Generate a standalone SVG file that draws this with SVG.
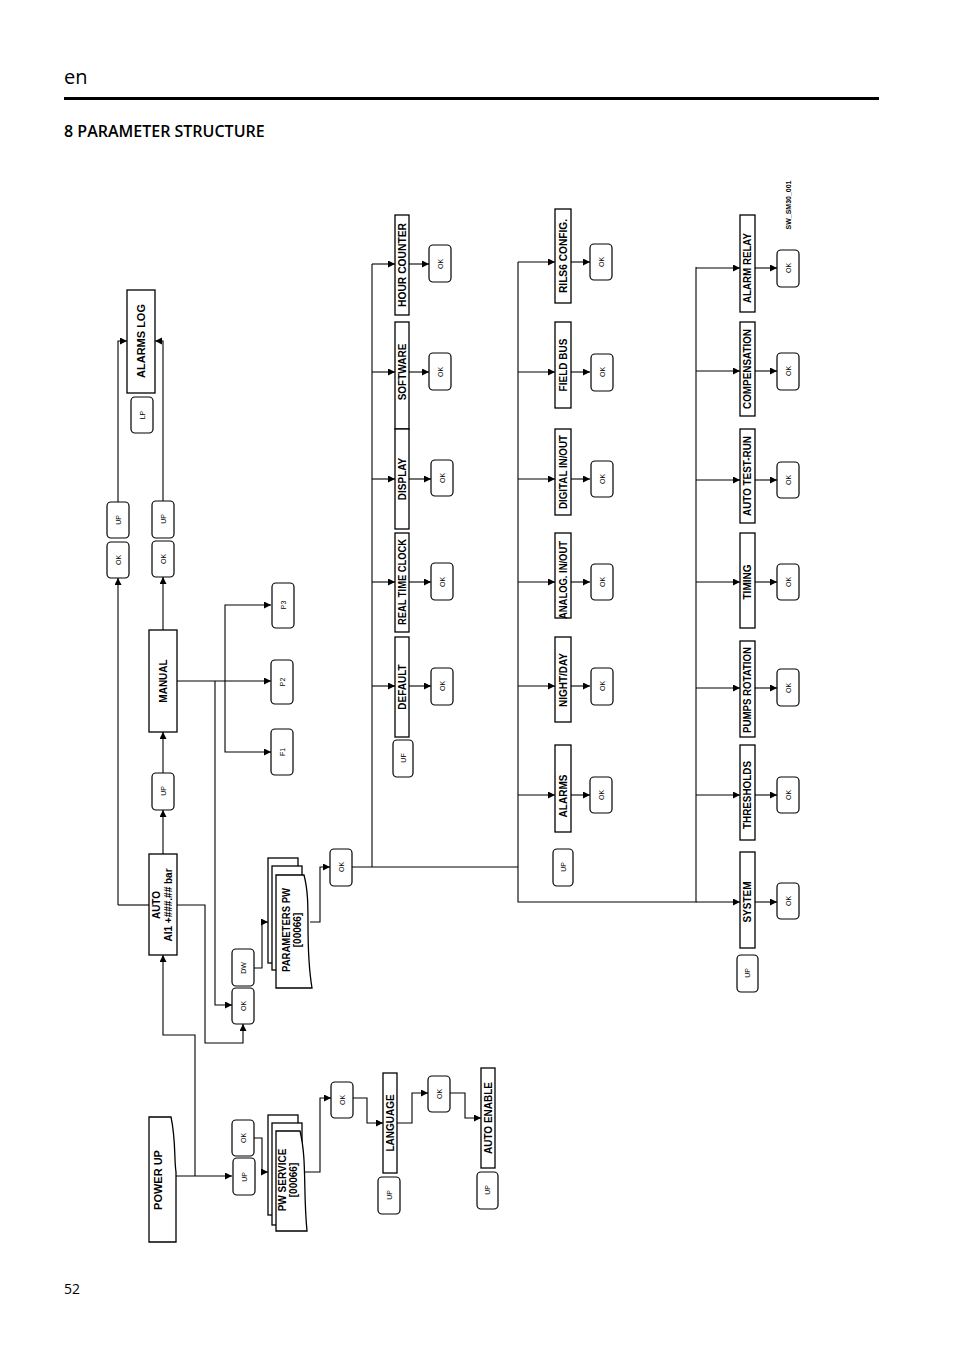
<svg xmlns="http://www.w3.org/2000/svg" width="954" height="1352" viewBox="0 0 954 1352">
<style>
.b{fill:#fff;stroke:#000;stroke-width:1.3}
.k{fill:#fff;stroke:#000;stroke-width:1.2}
.t{font-family:"Liberation Sans Narrow","Liberation Sans",Arial,sans-serif;font-weight:bold;font-size:10px;text-anchor:middle}
.s{font-family:"Liberation Sans",Arial,sans-serif;font-size:7px;text-anchor:middle}
.c line,.c path{fill:none;stroke:#000;stroke-width:1.1}
.a{marker-end:url(#ar)}
</style>
<defs>
<marker id="ar" markerUnits="userSpaceOnUse" markerWidth="8" markerHeight="8" refX="7" refY="3.5" orient="auto"><path d="M0,0 L7,3.5 L0,7 Z" fill="#000"/></marker>
</defs>
<rect width="954" height="1352" fill="#fff"/>
<text x="64" y="84" font-family="Open Sans,Liberation Sans,sans-serif" font-size="20">en</text>
<rect x="64" y="97" width="815" height="3" fill="#000"/>
<text x="64" y="137" font-family="Open Sans,Liberation Sans,sans-serif" font-size="16" font-weight="600">8 PARAMETER STRUCTURE</text>
<text x="64" y="1294" font-family="Open Sans,Liberation Sans,sans-serif" font-size="14">52</text>
<text class="s" style="font-weight:bold;font-size:7px" transform="translate(791,205) rotate(-90)">SW_SM30_001</text>

<g class="c">
<path class="a" d="M118,905 L118,578"/>
<path class="a" d="M118,502 L118,341 L127,341"/>
<path class="a" d="M163,501 L163,341 L155,341"/>
<path class="a" d="M163,630 L163,577"/>
<path class="a" d="M177,681 L271,681"/>
<path class="a" d="M225,681 L225,605 L271,605"/>
<path class="a" d="M225,681 L225,752 L271,752"/>
<path class="a" d="M215,681 L215,1005 L232,1005"/>
<path class="a" d="M163,854 L163,810"/>
<path class="a" d="M163,773 L163,732"/>
<path d="M149,905 L118,905"/>
<path class="a" d="M177,905 L205,905 L205,1043 L243,1043 L243,1024"/>
<path class="a" d="M254,968 L262,968 L262,922 L268,922"/>
<path class="a" d="M310,922 L320,922 L320,867 L330,867"/>
<path d="M352,867 L518,867"/>
<path d="M372,867 L372,264"/>
<path d="M518,262 L518,902 L696,902 L696,267"/>
<path class="a" d="M372,264 L395,264"/><path class="a" d="M409,264 L429,264"/>
<path class="a" d="M372,372 L395,372"/><path class="a" d="M409,372 L429,372"/>
<path class="a" d="M372,479 L395,479"/><path class="a" d="M409,479 L431,479"/>
<path class="a" d="M372,582 L395,582"/><path class="a" d="M409,582 L431,582"/>
<path class="a" d="M372,686 L395,686"/><path class="a" d="M409,686 L431,686"/>
<path class="a" d="M518,262 L555,262"/><path class="a" d="M571,262 L590,262"/>
<path class="a" d="M518,372 L555,372"/><path class="a" d="M571,372 L590,372"/>
<path class="a" d="M518,479 L555,479"/><path class="a" d="M571,479 L590,479"/>
<path class="a" d="M518,582 L555,582"/><path class="a" d="M571,582 L590,582"/>
<path class="a" d="M518,686 L555,686"/><path class="a" d="M571,686 L590,686"/>
<path class="a" d="M518,795 L555,795"/><path class="a" d="M571,795 L590,795"/>
<path class="a" d="M696,268 L740,268"/><path class="a" d="M755,268 L777,268"/>
<path class="a" d="M696,371 L740,371"/><path class="a" d="M755,371 L777,371"/>
<path class="a" d="M696,480 L740,480"/><path class="a" d="M755,480 L777,480"/>
<path class="a" d="M696,582 L740,582"/><path class="a" d="M755,582 L777,582"/>
<path class="a" d="M696,688 L740,688"/><path class="a" d="M755,688 L777,688"/>
<path class="a" d="M696,795 L740,795"/><path class="a" d="M755,795 L777,795"/>
<path class="a" d="M696,902 L740,902"/><path class="a" d="M755,902 L777,902"/>
<path class="a" d="M176,1176 L232,1176"/>
<path class="a" d="M195,1176 L195,1035 L163,1035 L163,955"/>
<path class="a" d="M254,1138 L262,1138 L262,1172 L268,1172"/>
<path class="a" d="M305,1172 L320,1172 L320,1098 L331,1098"/>
<path class="a" d="M353,1098 L367,1098 L367,1123 L383,1123"/>
<path class="a" d="M397,1123 L412,1123 L412,1093 L428,1093"/>
<path class="a" d="M450,1093 L465,1093 L465,1118 L481,1118"/>
</g>

<g id="alarms-log"><rect class="b" x="127" y="290" width="28" height="103"/><text class="t" style="font-size:11px" transform="translate(145,341) rotate(-90)">ALARMS LOG</text></g>
<g id="lp"><rect class="k" x="131" y="397" width="22" height="36" rx="4"/><text class="s" transform="translate(144.5,415) rotate(-90)">LP</text></g>
<g id="ok-a1"><rect class="k" x="107" y="542" width="22" height="36" rx="4"/><text class="s" transform="translate(120.5,560) rotate(-90)">OK</text></g>
<g id="up-a1"><rect class="k" x="107" y="502" width="22" height="36" rx="4"/><text class="s" transform="translate(120.5,520) rotate(-90)">UP</text></g>
<g id="ok-m1"><rect class="k" x="152" y="541" width="22" height="36" rx="4"/><text class="s" transform="translate(165.5,559) rotate(-90)">OK</text></g>
<g id="up-m1"><rect class="k" x="152" y="501" width="22" height="37" rx="4"/><text class="s" transform="translate(165.5,519) rotate(-90)">UP</text></g>
<g id="manual"><rect class="b" x="149" y="630" width="28" height="102"/><text class="t" transform="translate(166.5,681) rotate(-90)">MANUAL</text></g>
<g id="p3"><rect class="k" x="272" y="583" width="22" height="45" rx="4"/><text class="s" transform="translate(285.5,605) rotate(-90)">P3</text></g>
<g id="p2"><rect class="k" x="271" y="660" width="22" height="44" rx="4"/><text class="s" transform="translate(284.5,682) rotate(-90)">P2</text></g>
<g id="f1"><rect class="k" x="271" y="729" width="22" height="46" rx="4"/><text class="s" transform="translate(284.5,752) rotate(-90)">F1</text></g>
<g id="up-auto"><rect class="k" x="152" y="773" width="22" height="37" rx="4"/><text class="s" transform="translate(165.5,791) rotate(-90)">UP</text></g>
<g id="auto"><rect class="b" x="149" y="854" width="28" height="101"/><text class="t" transform="translate(160,905) rotate(-90)">AUTO</text><text class="t" transform="translate(172,905) rotate(-90)">AI1 +###.## bar</text></g>
<g id="dw"><rect class="k" x="232" y="949" width="22" height="37" rx="4"/><text class="s" transform="translate(245.5,968) rotate(-90)">DW</text></g>
<g id="ok-dw"><rect class="k" x="232" y="988" width="22" height="36" rx="4"/><text class="s" transform="translate(245.5,1006) rotate(-90)">OK</text></g>
<g id="parameters-pw">
<rect class="b" x="268" y="858" width="30" height="105"/>
<rect class="b" x="272" y="866" width="30" height="104"/>
<path class="b" d="M276,875 L304,875 C312,905 304,940 312,988 L276,988 Z"/>
<text class="t" textLength="84" lengthAdjust="spacingAndGlyphs" transform="translate(290,930) rotate(-90)">PARAMETERS PW</text><text class="t" transform="translate(301,930) rotate(-90)">[00066]</text></g>
<g id="ok-pw"><rect class="k" x="330" y="849" width="22" height="37" rx="4"/><text class="s" transform="translate(343.5,867) rotate(-90)">OK</text></g>

<g id="hour-counter"><rect class="b" x="395" y="215" width="14" height="100"/><text class="t" textLength="84" lengthAdjust="spacingAndGlyphs" transform="translate(405.5,265) rotate(-90)">HOUR COUNTER</text></g>
<g id="software"><rect class="b" x="395" y="322" width="14" height="107"/><text class="t" transform="translate(405.5,372) rotate(-90)">SOFTWARE</text></g>
<g id="display"><rect class="b" x="395" y="429" width="14" height="100"/><text class="t" transform="translate(405.5,479) rotate(-90)">DISPLAY</text></g>
<g id="real-time-clock"><rect class="b" x="395" y="533" width="14" height="99"/><text class="t" textLength="86" lengthAdjust="spacingAndGlyphs" transform="translate(405.5,582) rotate(-90)">REAL TIME CLOCK</text></g>
<g id="default"><rect class="b" x="395" y="637" width="14" height="100"/><text class="t" transform="translate(405.5,687) rotate(-90)">DEFAULT</text></g>
<g id="uf"><rect class="k" x="393" y="740" width="20" height="37" rx="4"/><text class="s" transform="translate(405.5,758) rotate(-90)">UF</text></g>
<g id="ok-c2"><rect class="k" x="429" y="245" width="22" height="37" rx="4"/><text class="s" transform="translate(442.5,264) rotate(-90)">OK</text>
<rect class="k" x="429" y="353" width="22" height="37" rx="4"/><text class="s" transform="translate(442.5,372) rotate(-90)">OK</text>
<rect class="k" x="431" y="460" width="22" height="36" rx="4"/><text class="s" transform="translate(444.5,478) rotate(-90)">OK</text>
<rect class="k" x="431" y="563" width="22" height="37" rx="4"/><text class="s" transform="translate(444.5,582) rotate(-90)">OK</text>
<rect class="k" x="431" y="668" width="22" height="37" rx="4"/><text class="s" transform="translate(444.5,686) rotate(-90)">OK</text></g>

<g id="rils6"><rect class="b" x="555" y="209" width="16" height="94"/><text class="t" textLength="74" lengthAdjust="spacingAndGlyphs" transform="translate(566.5,256) rotate(-90)">RILS6 CONFIG.</text></g>
<g id="field-bus"><rect class="b" x="555" y="322" width="16" height="86"/><text class="t" transform="translate(566.5,365) rotate(-90)">FIELD BUS</text></g>
<g id="digital"><rect class="b" x="555" y="429" width="16" height="86"/><text class="t" textLength="74" lengthAdjust="spacingAndGlyphs" transform="translate(566.5,472) rotate(-90)">DIGITAL IN/OUT</text></g>
<g id="analog"><rect class="b" x="555" y="533" width="16" height="85"/><text class="t" textLength="78" lengthAdjust="spacingAndGlyphs" transform="translate(566.5,580) rotate(-90)">ANALOG. IN/OUT</text></g>
<g id="night-day"><rect class="b" x="555" y="637" width="16" height="85"/><text class="t" transform="translate(566.5,680) rotate(-90)">NIGHT/DAY</text></g>
<g id="alarms"><rect class="b" x="555" y="745" width="16" height="87"/><text class="t" transform="translate(566.5,796) rotate(-90)">ALARMS</text></g>
<g id="up-c3"><rect class="k" x="553" y="849" width="20" height="37" rx="4"/><text class="s" transform="translate(565.5,867) rotate(-90)">UP</text></g>
<g id="ok-c3">
<rect class="k" x="590" y="244" width="22" height="36" rx="4"/><text class="s" transform="translate(603.5,262) rotate(-90)">OK</text>
<rect class="k" x="591" y="354" width="22" height="37" rx="4"/><text class="s" transform="translate(604.5,372) rotate(-90)">OK</text>
<rect class="k" x="591" y="461" width="22" height="36" rx="4"/><text class="s" transform="translate(604.5,479) rotate(-90)">OK</text>
<rect class="k" x="591" y="564" width="22" height="36" rx="4"/><text class="s" transform="translate(604.5,582) rotate(-90)">OK</text>
<rect class="k" x="591" y="668" width="22" height="37" rx="4"/><text class="s" transform="translate(604.5,686) rotate(-90)">OK</text>
<rect class="k" x="590" y="777" width="22" height="36" rx="4"/><text class="s" transform="translate(603.5,795) rotate(-90)">OK</text></g>

<g id="alarm-relay"><rect class="b" x="740" y="215" width="15" height="97"/><text class="t" textLength="70" lengthAdjust="spacingAndGlyphs" transform="translate(751,268) rotate(-90)">ALARM RELAY</text></g>
<g id="compensation"><rect class="b" x="740" y="322" width="15" height="94"/><text class="t" textLength="80" lengthAdjust="spacingAndGlyphs" transform="translate(751,369) rotate(-90)">COMPENSATION</text></g>
<g id="auto-test-run"><rect class="b" x="740" y="429" width="15" height="94"/><text class="t" textLength="80" lengthAdjust="spacingAndGlyphs" transform="translate(751,476) rotate(-90)">AUTO TEST-RUN</text></g>
<g id="timing"><rect class="b" x="740" y="533" width="15" height="95"/><text class="t" transform="translate(751,582) rotate(-90)">TIMING</text></g>
<g id="pumps-rotation"><rect class="b" x="740" y="641" width="15" height="96"/><text class="t" textLength="86" lengthAdjust="spacingAndGlyphs" transform="translate(751,690) rotate(-90)">PUMPS ROTATION</text></g>
<g id="thresholds"><rect class="b" x="740" y="745" width="15" height="95"/><text class="t" textLength="68" lengthAdjust="spacingAndGlyphs" transform="translate(751,795) rotate(-90)">THRESHOLDS</text></g>
<g id="system"><rect class="b" x="740" y="852" width="15" height="96"/><text class="t" transform="translate(751,902) rotate(-90)">SYSTEM</text></g>
<g id="up-c4"><rect class="k" x="737" y="955" width="21" height="37" rx="4"/><text class="s" transform="translate(750,973) rotate(-90)">UP</text></g>
<g id="ok-c4">
<rect class="k" x="777" y="250" width="22" height="37" rx="4"/><text class="s" transform="translate(790.5,268) rotate(-90)">OK</text>
<rect class="k" x="777" y="353" width="22" height="37" rx="4"/><text class="s" transform="translate(790.5,371) rotate(-90)">OK</text>
<rect class="k" x="777" y="462" width="22" height="36" rx="4"/><text class="s" transform="translate(790.5,480) rotate(-90)">OK</text>
<rect class="k" x="777" y="564" width="22" height="36" rx="4"/><text class="s" transform="translate(790.5,582) rotate(-90)">OK</text>
<rect class="k" x="777" y="669" width="22" height="37" rx="4"/><text class="s" transform="translate(790.5,688) rotate(-90)">OK</text>
<rect class="k" x="777" y="777" width="22" height="36" rx="4"/><text class="s" transform="translate(790.5,795) rotate(-90)">OK</text>
<rect class="k" x="777" y="883" width="22" height="36" rx="4"/><text class="s" transform="translate(790.5,901) rotate(-90)">OK</text></g>

<g id="power-up"><path class="b" d="M149,1117 L171,1117 C176,1140 174,1160 176,1172 L176,1242 L149,1242 Z"/><text class="t" style="font-size:11px" transform="translate(162,1180) rotate(-90)">POWER UP</text></g>
<g id="ok-pu"><rect class="k" x="232" y="1120" width="22" height="36" rx="4"/><text class="s" transform="translate(245.5,1138) rotate(-90)">OK</text></g>
<g id="up-pu"><rect class="k" x="233" y="1158" width="22" height="37" rx="4"/><text class="s" transform="translate(246.5,1177) rotate(-90)">UP</text></g>
<g id="pw-service">
<rect class="b" x="268" y="1115" width="30" height="100"/>
<rect class="b" x="272" y="1123" width="30" height="102"/>
<path class="b" d="M276,1131 L300,1131 C307,1160 303,1190 307,1231 L276,1231 Z"/>
<text class="t" transform="translate(286,1180) rotate(-90)">PW SERVICE</text><text class="t" transform="translate(297,1180) rotate(-90)">[00066]</text></g>
<g id="ok-pws"><rect class="k" x="331" y="1082" width="22" height="36" rx="4"/><text class="s" transform="translate(344.5,1100) rotate(-90)">OK</text></g>
<g id="language"><rect class="b" x="383" y="1073" width="14" height="100"/><text class="t" transform="translate(393.5,1123) rotate(-90)">LANGUAGE</text></g>
<g id="up-lang"><rect class="k" x="378" y="1177" width="22" height="37" rx="4"/><text class="s" transform="translate(391.5,1195) rotate(-90)">UP</text></g>
<g id="ok-lang"><rect class="k" x="428" y="1076" width="22" height="36" rx="4"/><text class="s" transform="translate(441.5,1094) rotate(-90)">OK</text></g>
<g id="auto-enable"><rect class="b" x="481" y="1068" width="14" height="100"/><text class="t" transform="translate(491.5,1118) rotate(-90)">AUTO ENABLE</text></g>
<g id="up-ae"><rect class="k" x="477" y="1172" width="21" height="37" rx="4"/><text class="s" transform="translate(490,1190) rotate(-90)">UP</text></g>
</svg>
